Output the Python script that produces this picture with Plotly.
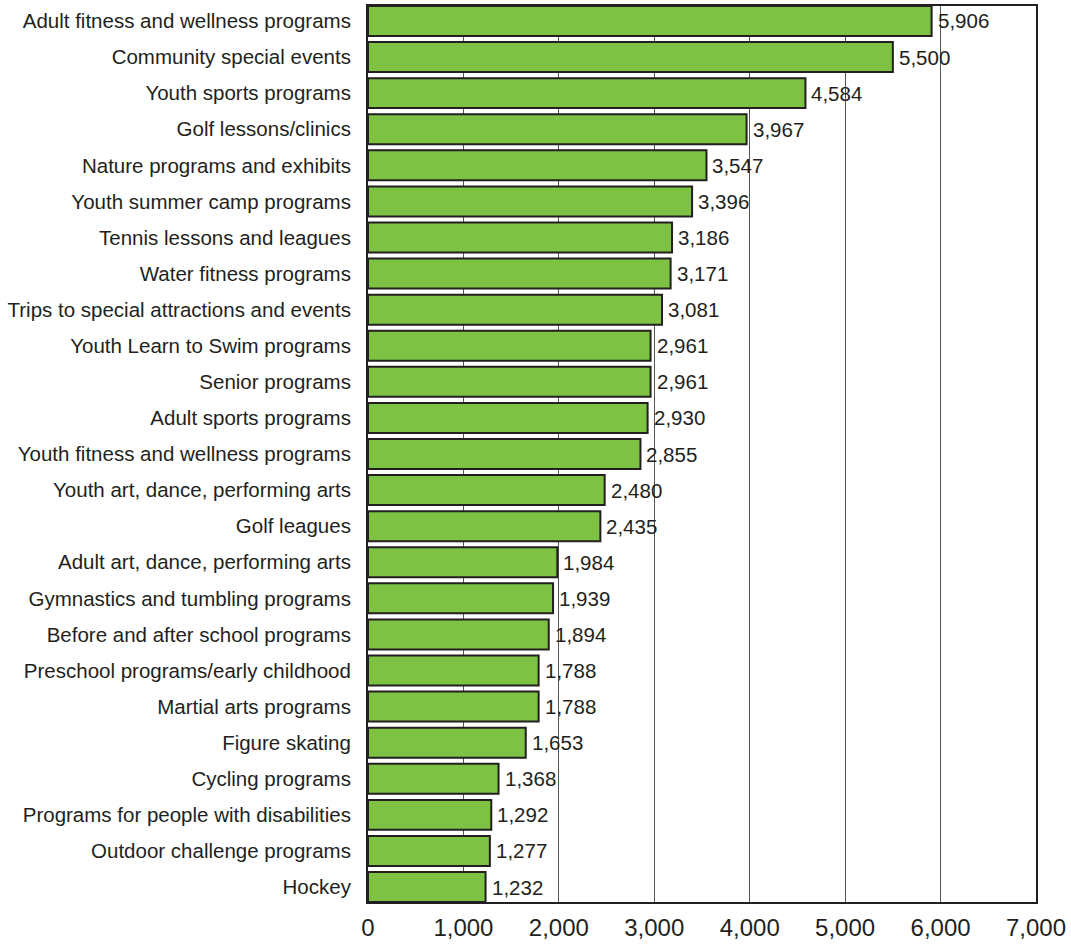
import plotly.graph_objects as go

categories = [
    "Adult fitness and wellness programs",
    "Community special events",
    "Youth sports programs",
    "Golf lessons/clinics",
    "Nature programs and exhibits",
    "Youth summer camp programs",
    "Tennis lessons and leagues",
    "Water fitness programs",
    "Trips to special attractions and events",
    "Youth Learn to Swim programs",
    "Senior programs",
    "Adult sports programs",
    "Youth fitness and wellness programs",
    "Youth art, dance, performing arts",
    "Golf leagues",
    "Adult art, dance, performing arts",
    "Gymnastics and tumbling programs",
    "Before and after school programs",
    "Preschool programs/early childhood",
    "Martial arts programs",
    "Figure skating",
    "Cycling programs",
    "Programs for people with disabilities",
    "Outdoor challenge programs",
    "Hockey",
]
values = [5906, 5500, 4584, 3967, 3547, 3396, 3186, 3171, 3081, 2961, 2961, 2930,
          2855, 2480, 2435, 1984, 1939, 1894, 1788, 1788, 1653, 1368, 1292, 1277, 1232]
tick_vals = [0, 1000, 2000, 3000, 4000, 5000, 6000, 7000]
tick_text = ["0", "1,000", "2,000", "3,000", "4,000", "5,000", "6,000", "7,000"]

dark = "#231f20"
font_family = "Liberation Sans, Arial, sans-serif"
gap = 0.17

fig = go.Figure(go.Bar(
    x=values,
    y=categories,
    orientation="h",
    marker=dict(color="#7dc242", line=dict(color=dark, width=2)),
    hoverinfo="x+y",
))

for c, v in zip(categories, values):
    fig.add_annotation(
        x=v, y=c, text=f"{v:,}", showarrow=False,
        xanchor="left", yanchor="middle", xshift=4,
        font=dict(family=font_family, size=20.5, color=dark),
    )

n = len(categories)
fig.update_layout(
    width=1071, height=945,
    margin=dict(l=368, r=35, t=4, b=40),
    plot_bgcolor="white", paper_bgcolor="white",
    bargap=gap,
    showlegend=False,
    font=dict(family=font_family, color=dark),
)
fig.update_xaxes(
    range=[0, 7000],
    tickvals=tick_vals, ticktext=tick_text,
    tickfont=dict(size=24, color=dark),
    showgrid=True, gridcolor="#555555", gridwidth=1,
    showline=True, linecolor=dark, linewidth=2, mirror=True,
    zeroline=False, ticks="", ticklabelstandoff=3,
)
fig.update_yaxes(
    categoryorder="array", categoryarray=categories[::-1],
    range=[-0.5 + gap / 2, n - 0.5 - gap / 2],
    tickfont=dict(size=20.5, color=dark),
    showline=True, linecolor=dark, linewidth=2, mirror=True,
    ticks="", ticklabelstandoff=11,
)

fig.write_html(
    "out.html",
    config={"displayModeBar": False},
    post_script="document.body.style.margin='0';document.body.style.padding='0';",
)
